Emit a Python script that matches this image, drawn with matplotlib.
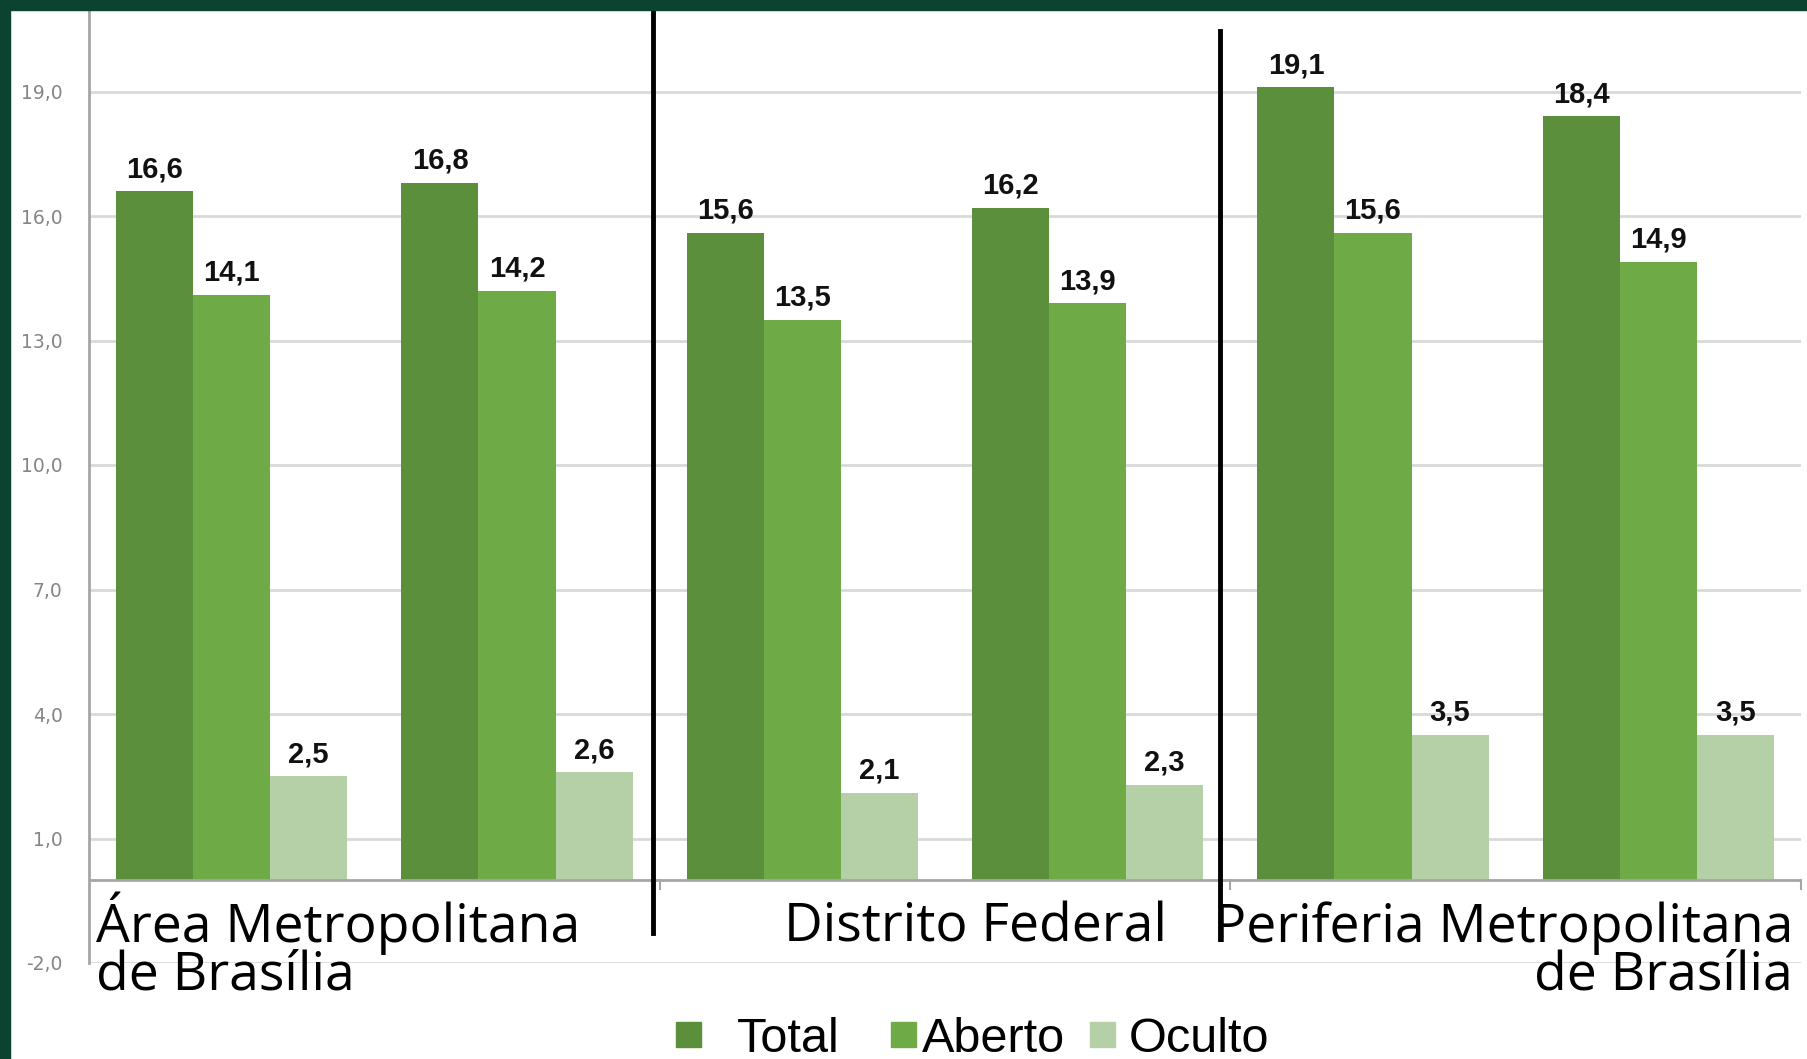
import matplotlib
matplotlib.use("Agg")
import matplotlib.pyplot as plt
import numpy as np
from matplotlib.lines import Line2D
from matplotlib.patches import Rectangle

# data
series = ["Total", "Aberto", "Oculto"]
total = [16.6, 16.8, 15.6, 16.2, 19.1, 18.4]
aberto = [14.1, 14.2, 13.5, 13.9, 15.6, 14.9]
oculto = [2.5, 2.6, 2.1, 2.3, 3.5, 3.5]
yticks = [-2, 1, 4, 7, 10, 13, 16, 19]
regions = ["Área Metropolitana\nde Brasília", "Distrito Federal",
           "Periferia Metropolitana\nde Brasília"]

colors = ["#5B8F3B", "#6EAB46", "#B5D0A6"]
border = "#0B4330"

W, H = 1807, 1059
fig = plt.figure(figsize=(W / 100, H / 100), dpi=100)
ax = fig.add_axes([89 / W, (H - 963) / H, (1801 - 89) / W, (963 - 8.5) / H])

x = np.arange(len(total))
bw = 0.27
for i, vals in enumerate([total, aberto, oculto]):
    bars = ax.bar(x + (i - 1) * bw, vals, bw, color=colors[i], zorder=3)
    for b, v in zip(bars, vals):
        ax.annotate(f"{v:.1f}".replace(".", ","),
                    (b.get_x() + b.get_width() / 2, v),
                    xytext=(0, 10), textcoords="offset points",
                    ha="center", va="baseline", fontsize=21, fontweight="bold",
                    family="Liberation Sans", color="#111111", zorder=4)

ax.set_xlim(-0.5, 5.5)
ax.set_ylim(-2, 21)
ax.set_yticks(yticks)
ax.set_yticklabels([f"{t:.1f}".replace(".", ",") for t in yticks],
                   color="#858585", fontsize=13.5)
ax.tick_params(axis="y", length=0, pad=19)
ax.set_xticks([])
ax.grid(axis="y", color="#D9D9D9", linewidth=2, zorder=0)
for s in ["top", "right", "bottom"]:
    ax.spines[s].set_visible(False)
ax.spines["left"].set_color("#A6A6A6")
ax.spines["left"].set_linewidth(2)

# category axis at zero with separator ticks
ax.axhline(0, color="#A6A6A6", linewidth=2, zorder=5)
for sx in [1.5, 3.5, 5.5]:
    ax.plot([sx, sx], [0, -0.22], color="#A6A6A6", linewidth=1.5, zorder=5,
            clip_on=False)

# black separators between regions
for sx, y0, y1 in [(653, 10, 933), (1220, 31, 939)]:
    fig.add_artist(Line2D([sx / W, sx / W], [1 - y0 / H, 1 - y1 / H],
                          transform=fig.transFigure, color="black", linewidth=3.5,
                          zorder=10))

# region labels
lab = dict(family="Open Sans", fontsize=38.5, color="black", va="baseline")
l1 = regions[0].split("\n")
fig.text(96 / W, 1 - 942 / H, l1[0], ha="left", **lab)
fig.text(96 / W, 1 - 989 / H, l1[1], ha="left", **lab)
fig.text(975 / W, 1 - 942 / H, regions[1], ha="center", **lab)
l3 = regions[2].split("\n")
fig.text(1793 / W, 1 - 942 / H, l3[0], ha="right", **lab)
fig.text(1793 / W, 1 - 989 / H, l3[1], ha="right", **lab)

# legend
for name, c, sq, tx in zip(series, colors, [676, 891, 1090], [737, 922, 1129]):
    fig.add_artist(Rectangle((sq / W, 1 - 1047 / H), 25 / W, 25 / H,
                             transform=fig.transFigure, color=c))
    fig.text(tx / W, 1 - 1052 / H, name, ha="left", va="baseline",
             family="Liberation Sans", fontsize=35, color="black")

# dark green frame on top and left
fig.add_artist(Rectangle((0, 1 - 10 / H), 1, 10 / H, transform=fig.transFigure,
                         color=border, zorder=20))
fig.add_artist(Rectangle((0, 0), 10 / W, 1, transform=fig.transFigure,
                         color=border, zorder=20))

fig.savefig("out.png", dpi=100)
